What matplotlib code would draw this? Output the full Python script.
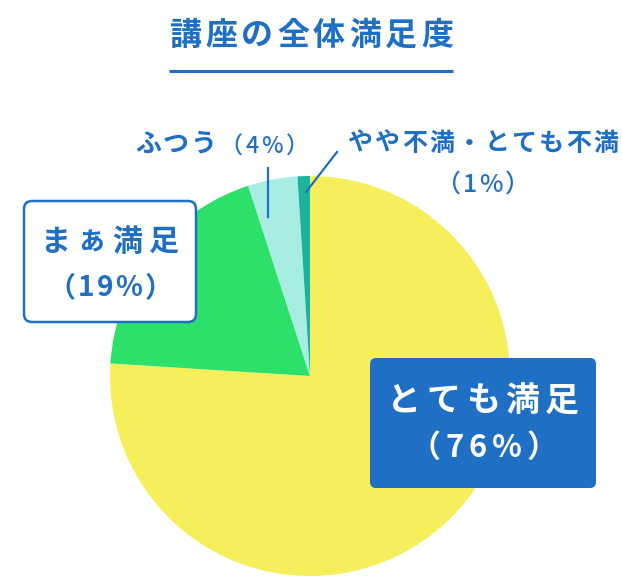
import matplotlib
matplotlib.use("Agg")
import matplotlib.pyplot as plt
from matplotlib.patches import FancyBboxPatch
from matplotlib.font_manager import findfont, FontProperties
from matplotlib.ft2font import FT2Font

plt.rcParams['font.family'] = ['Noto Sans CJK JP', 'DejaVu Sans']

# data
labels = ["とても満足", "まぁ満足", "ふつう", "やや不満・とても不満"]
values = [76, 19, 4, 1]
colors = ["#F6EF5C", "#2CE06A", "#A8EDE2", "#1DB39A"]
title = "講座の全体満足度"

BLUE = "#1F6FC4"
W, H = 622, 576

fig = plt.figure(figsize=(W / 100, H / 100), dpi=100)
ax = fig.add_axes([0, 0, 1, 1])

_fonts = {}


def get_font(weight):
    if weight not in _fonts:
        path = findfont(FontProperties(family='Noto Sans CJK JP', weight=weight))
        _fonts[weight] = FT2Font(path)
    return _fonts[weight]


def Y(y):
    # pixel y (from top) to data y
    return H - y


def track(text, left, right, base, em, color, weight='bold'):
    # lay the characters out so the ink runs from left to right (pixels)
    font = get_font(weight)
    font.set_size(em * 72 / 100, 100)
    info = []
    for ch in text:
        g = font.load_char(ord(ch))
        info.append((g.linearHoriAdvance / 65536, g.horiBearingX / 64, g.width / 64))
    pens = [0]
    for adv, _, _ in info[:-1]:
        pens.append(pens[-1] + adv)
    span = pens[-1] + info[-1][1] + info[-1][2] - info[0][1]
    n = len(text)
    sp = (right - left - span) / (n - 1) if n > 1 else 0
    for i, ch in enumerate(text):
        x = left + pens[i] + i * sp - info[0][1]
        ax.text(x, Y(base), ch, fontsize=em * 72 / 100, color=color,
                fontweight=weight, ha='left', va='baseline', zorder=4)


ax.pie(values, colors=colors, startangle=90, counterclock=False,
       center=(310, Y(376)), radius=200, frame=True,
       wedgeprops=dict(linewidth=0))

ax.set_xlim(0, W)
ax.set_ylim(0, H)
ax.set_aspect('equal')
ax.axis('off')

# title + underline
track(title, 170, 452, 45, 32, BLUE)
ax.plot([169, 453], [Y(71), Y(71)], color=BLUE, lw=2.2, solid_capstyle='butt')

# ふつう label
track(labels[2], 136, 212, 152, 26, BLUE)
track(f"（{values[2]}%）", 235, 293, 153, 23, BLUE, weight='medium')
ax.plot([268, 268], [Y(168), Y(217)], color=BLUE, lw=1.6)

# やや不満 label
track(labels[3], 348, 618, 151, 25, BLUE)
track(f"（{values[3]}%）", 453, 513, 192, 25, BLUE, weight='medium')
ax.plot([337, 306], [Y(152), Y(192)], color=BLUE, lw=1.6)

# まぁ満足 box
box1 = FancyBboxPatch((24, Y(322)), 172, 121, boxstyle="round,pad=0,rounding_size=8",
                      facecolor="white", edgecolor=BLUE, lw=1.8, zorder=3)
ax.add_patch(box1)
track(labels[1], 45, 178, 251, 30, BLUE)
track(f"（{values[1]}%）", 66, 154, 296, 28, BLUE)

# とても満足 box
box2 = FancyBboxPatch((370, Y(488)), 226, 130, boxstyle="round,pad=0,rounding_size=6",
                      facecolor=BLUE, edgecolor=BLUE, lw=0, zorder=3)
ax.add_patch(box2)
track(labels[0], 393, 578, 411, 34, "white")
track(f"（{values[0]}%）", 430, 537, 457, 31, "white")

fig.savefig("out.png", dpi=100)
